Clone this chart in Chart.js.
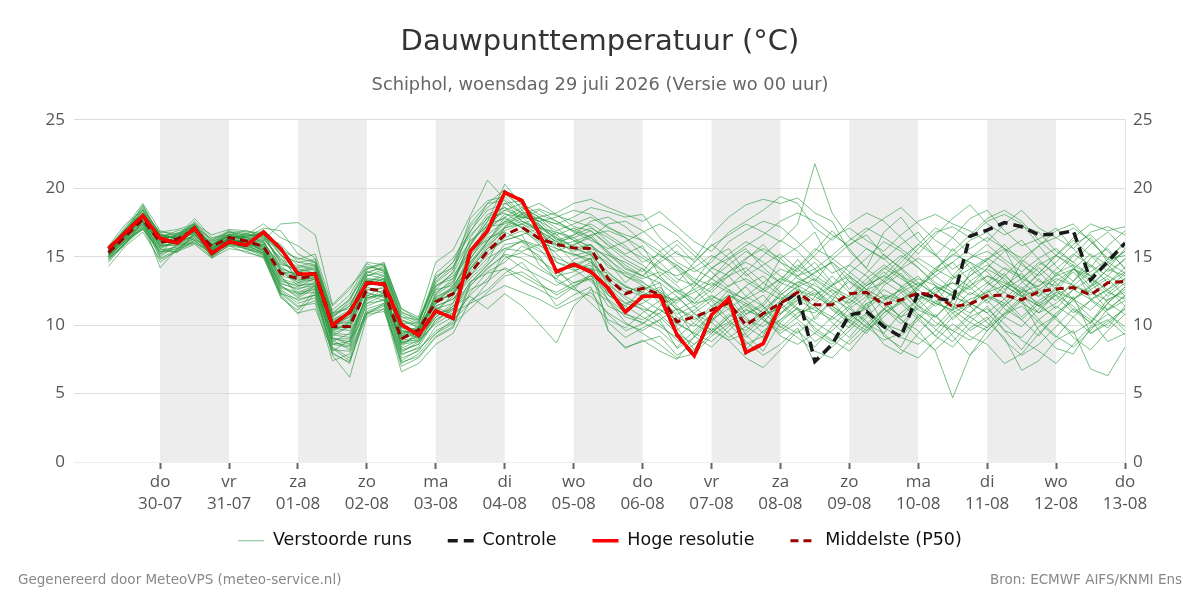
<!DOCTYPE html>
<html lang="nl">
<head>
<meta charset="utf-8">
<title>Dauwpunttemperatuur</title>
<script src="https://cdn.jsdelivr.net/npm/chart.js@4.4.1/dist/chart.umd.min.js"></script>
<style>
  html, body { margin: 0; padding: 0; background: #fff; }
  #wrap { width: 1200px; height: 600px; position: relative; }
</style>
</head>
<body>
<div id="wrap"><canvas id="chart"></canvas></div>
<script>
// time axis: hours after wo 29-07 00:00, 6-hourly steps
const HOURS = [6,12,18,24,30,36,42,48,54,60,66,72,78,84,90,96,102,108,114,120,
  126,132,138,144,150,156,162,168,174,180,186,192,198,204,210,216,222,228,234,240,
  246,252,258,264,270,276,282,288,294,300,306,312,318,324,330,336,342,348,354,360];

const DAY_NAMES = ['do','vr','za','zo','ma','di','wo','do','vr','za','zo','ma','di','wo','do'];
const DAY_DATES = ['30-07','31-07','01-08','02-08','03-08','04-08','05-08','06-08','07-08','08-08','09-08','10-08','11-08','12-08','13-08'];
const SHADED_DATES = ['30-07','01-08','03-08','05-08','07-08','09-08','11-08'];

const Y_TICKS = [0, 5, 10, 15, 20, 25];

// hoge resolutie (stops after ~10 days)
const hres = [15.6,16.8,18.0,16.35,16.0,17.1,15.25,16.1,15.85,16.8,
  15.6,13.75,13.75,10.0,10.95,13.1,13.0,10.05,9.25,11.05,
  10.5,15.4,16.9,19.7,19.1,16.7,13.9,14.45,13.9,12.7,
  10.95,12.1,12.15,9.3,7.75,10.75,11.95,8.0,8.65,11.5];

// controle run
const control = [15.6,16.8,18.0,16.35,16.0,17.1,15.25,16.1,15.85,16.8,
  15.6,13.75,13.75,10.0,10.95,13.1,13.0,10.05,9.25,11.05,
  10.5,15.4,16.9,19.7,19.1,16.7,13.9,14.45,13.9,12.7,
  10.95,12.1,12.15,9.3,7.75,10.75,11.95,8.0,8.65,11.5,
  12.4,7.35,8.6,10.75,11.0,9.9,9.15,12.4,12.0,11.75,
  16.5,16.95,17.5,17.2,16.6,16.65,16.9,13.3,14.65,16.0];

// middelste (P50)
const median = [15.3,16.5,17.75,16.05,16.3,17.0,15.75,16.4,16.15,15.75,
  13.8,13.4,13.65,9.9,9.9,12.65,12.5,9.0,9.65,11.7,
  12.3,13.8,15.4,16.6,17.15,16.35,15.9,15.65,15.6,13.4,
  12.3,12.7,12.25,10.25,10.6,11.1,11.65,10.0,10.85,11.6,
  12.4,11.5,11.5,12.3,12.4,11.5,11.85,12.35,12.2,11.35,
  11.55,12.15,12.2,11.85,12.45,12.65,12.75,12.2,13.1,13.2];

// verstoorde runs (ensemble members)
const members = [
  [15.6,16.9,18.3,16.2,15.9,17.3,15.1,16.2,15.9,17.0, 15.2,13.2,13.9,9.6,10.8,13.4,13.2,9.8,9.0,11.3,10.8, 15.8,17.6,20.3,18.8,17.2,14.6,14.0,14.4,12.2,11.4, 12.6,13.1,9.8,8.2,10.3,12.0,8.6,9.2,11.8,12.9, 10.4,11.8,13.5,12.2,10.1,9.6,11.7,12.8,11.2,13.9, 14.8,15.6,13.2,12.1,13.8,14.4,11.9,12.6,13.8],
  [15.0,16.2,17.2,15.8,16.0,16.6,15.9,16.5,16.3,15.4, 12.6,11.8,12.2,8.4,7.6,11.2,11.6,7.4,8.2,9.6,10.2, 12.4,13.9,14.6,15.8,15.1,13.2,12.6,13.8,10.2,9.1, 9.8,10.4,8.3,9.1,10.4,11.2,9.3,8.1,10.2,11.3, 9.6,8.8,10.4,11.6,9.2,8.4,10.8,9.7,8.8,10.2, 11.4,9.6,8.2,9.9,10.7,12.1,9.4,10.3,11.2],
  [15.4,17.1,18.6,16.6,16.4,17.6,16.2,16.8,16.6,16.2, 17.4,17.5,16.6,11.5,12.8,14.2,14.5,11.2,10.4,13.6,14.2, 16.9,18.4,18.9,18.2,17.8,17.4,17.9,18.6,18.3,17.9, 18.1,16.4,15.2,14.8,16.6,17.9,18.8,19.2,18.9,19.3, 18.2,17.6,15.4,14.2,16.8,17.9,16.2,15.1,16.4,17.8, 18.4,16.9,15.8,16.3,17.1,15.6,14.2,15.8,16.9],
  [15.2,16.5,17.9,15.1,16.8,16.2,15.8,16.9,16.1,15.6, 13.1,12.6,13.1,8.8,9.4,12.1,12.9,8.4,9.6,12.3,13.4, 15.2,17.4,17.8,17.1,15.9,16.8,16.2,15.3,14.6,13.1, 14.2,12.3,11.1,11.8,13.4,12.6,10.8,11.6,13.2,14.8, 13.3,12.4,10.9,9.8,11.2,12.8,13.6,12.1,10.4,11.6, 12.9,13.8,12.2,10.9,12.4,14.1,13.2,11.6,12.8],
  [14.9,16.0,17.6,14.2,15.6,16.1,15.4,16.2,15.5,15.3, 12.1,10.8,12.4,7.8,6.2,10.6,11.2,6.6,7.2,8.6,9.4, 11.8,12.6,13.8,14.6,13.2,11.4,12.2,12.8,9.6,8.4, 8.8,9.2,7.8,8.6,9.8,8.9,7.6,6.9,8.2,9.6, 8.4,9.9,11.2,10.3,8.6,7.9,9.4,10.8,9.2,7.8, 9.1,10.6,11.8,9.6,8.3,7.9,9.8,10.4,9.3],
  [15.5,16.7,18.1,16.4,16.9,17.2,15.6,16.4,16.7,16.4, 14.6,13.9,14.2,10.6,11.4,13.8,14.3,10.8,10.2,13.1,14.1, 17.8,19.1,19.4,18.2,18.5,18.0,17.6,17.2,16.1,15.2, 15.8,13.6,12.4,13.1,14.9,15.6,13.8,12.6,14.9,15.7, 16.8,14.4,12.6,13.8,15.2,14.1,12.8,13.9,15.6,14.2, 13.1,12.4,14.6,15.8,14.3,13.2,14.9,15.6,14.1],
  [15.1,16.3,17.4,15.6,15.3,16.8,14.9,15.9,15.8,15.9, 13.6,12.2,12.8,9.1,8.6,12.4,12.0,8.0,8.8,10.6,11.6, 14.1,15.6,16.2,16.6,14.4,13.4,14.8,15.2,12.8,11.6, 11.2,10.8,9.6,10.9,11.8,10.4,9.1,10.2,11.6,10.6, 12.1,13.6,12.4,11.2,12.9,13.8,12.2,11.6,13.4,14.6, 13.2,11.9,10.6,11.8,12.6,11.1,10.2,11.9,12.4],
  [15.7,17.2,18.9,16.9,16.5,17.8,16.4,16.6,16.9,16.6, 15.9,14.6,14.8,11.1,12.2,14.5,13.9,10.3,9.9,12.8,13.8, 16.2,17.2,17.4,17.9,17.6,16.4,15.8,16.6,15.3,14.2, 13.6,14.8,15.9,14.6,15.8,16.6,17.4,16.8,16.1,17.4, 21.8,18.2,16.4,15.6,14.8,15.9,16.8,15.2,13.6,12.8, 14.2,15.4,16.2,14.8,13.6,15.1,16.4,14.6,13.8],
  [15.3,16.6,17.7,16.0,16.2,16.9,15.6,16.3,16.0,15.6, 13.4,13.0,13.4,9.4,9.9,12.8,12.3,9.1,9.5,11.8,12.6, 13.9,15.1,16.4,16.9,16.1,15.6,15.2,14.8,13.2,12.4, 12.9,11.6,10.2,9.4,10.8,11.9,12.8,11.4,9.8,10.9, 11.3,10.6,9.8,11.6,12.1,10.4,9.6,8.1,4.7,7.8, 9.6,10.8,11.4,10.2,9.1,10.6,11.8,10.9,9.6],
  [15.6,16.8,18.2,16.1,16.1,17.0,15.3,16.0,16.2,16.9, 14.1,13.7,13.3,10.2,10.6,13.1,13.6,9.6,9.4,11.9,12.2, 14.8,16.8,18.9,19.1,17.4,15.9,14.6,14.1,13.8,12.9, 12.2,12.8,11.4,10.1,9.4,10.6,11.4,12.2,10.8,11.8, 12.6,11.2,10.4,11.9,13.2,12.4,11.1,10.6,11.9,12.8, 11.6,12.9,13.8,12.4,11.2,12.6,13.4,12.1,13.1],
  [15.8,17.4,18.4,16.8,17.0,17.4,16.6,17.0,16.9,16.4, 15.6,14.8,15.2,11.4,12.6,14.6,14.4,11.2,10.6,14.6,15.5, 18.0,20.6,19.2,18.1,17.6,17.9,18.4,18.1,17.2,16.4, 15.1,14.2,13.1,14.6,15.9,14.9,13.6,14.4,15.2,14.1, 13.2,14.8,15.9,16.6,15.1,14.2,15.6,16.8,17.2,16.4, 17.6,18.1,17.4,15.9,16.4,17.1,16.2,14.8,16.1],
  [14.6,16.1,17.0,15.3,15.8,16.4,15.2,16.1,15.6,15.2, 12.8,12.4,12.6,8.9,8.2,11.6,12.2,8.6,8.8,10.2,11.4, 12.1,11.2,12.3,11.4,10.1,8.7,11.4,12.6,11.8,10.6, 10.2,9.6,8.4,9.6,10.8,11.9,10.6,9.4,10.8,12.1, 11.4,10.2,9.1,10.6,11.8,12.6,11.4,10.2,9.6,10.8, 12.2,11.6,10.4,9.2,10.9,11.8,10.6,9.8,11.4],
  [15.2,16.4,17.3,16.3,16.6,16.8,16.1,16.7,16.5,15.1, 13.8,13.9,14.1,10.1,10.2,12.9,13.2,9.4,9.9,11.4,11.9, 13.4,14.6,17.2,17.8,18.4,17.6,16.9,17.4,16.6,15.8, 14.6,15.2,14.1,12.6,13.4,14.8,15.6,14.2,13.1,12.6, 11.8,12.9,14.4,13.6,12.1,11.6,12.8,13.9,14.6,13.2, 12.1,11.4,12.6,13.8,15.1,14.2,12.8,13.6,14.9],
  [15.0,16.1,17.5,15.5,15.7,16.3,15.5,16.2,15.8,15.3, 12.4,11.4,11.6,7.4,7.9,10.9,11.4,7.0,7.6,9.1,9.8, 12.9,14.2,15.1,14.2,13.6,12.9,13.6,14.2,11.8,10.2, 9.4,8.6,7.6,7.9,9.2,10.1,8.8,7.8,8.6,9.8, 7.2,8.4,9.6,10.8,9.4,8.2,7.6,8.9,10.1,9.2, 8.6,7.2,7.9,9.4,10.6,9.1,8.2,9.6,10.8],
  [15.4,16.7,17.9,16.5,16.4,17.1,15.9,16.5,16.4,17.1, 16.9,15.2,14.6,10.8,11.9,13.9,13.6,10.1,10.2,13.4,14.6, 16.6,17.8,18.2,17.4,17.9,18.2,18.9,19.2,18.6,18.1, 17.6,18.3,17.2,16.1,15.4,16.8,17.6,18.4,19.4,18.9, 17.1,16.2,17.4,18.2,17.6,16.4,15.2,16.6,17.8,18.8, 17.4,16.6,17.2,16.8,15.4,14.6,15.9,16.8,15.6],
  [15.3,16.6,18.0,15.7,16.1,16.9,15.0,16.1,16.0,16.2, 13.9,13.1,13.7,9.8,9.6,12.6,12.7,8.6,9.3,12.2,13.1, 15.6,16.2,17.1,17.6,16.9,16.1,15.4,15.9,14.2,13.8, 13.2,12.1,10.6,9.9,11.2,12.6,11.8,10.9,12.4,13.6, 14.6,13.1,11.6,12.6,13.9,12.8,11.4,10.6,11.8,13.2, 14.1,13.4,12.2,11.4,12.8,13.9,12.6,11.1,12.2],
  [14.3,15.8,16.8,14.8,15.4,15.9,14.9,15.6,15.4,14.9, 12.2,10.9,11.2,8.1,8.9,10.8,11.0,7.8,8.4,10.4,11.1, 13.2,13.8,14.1,13.2,12.6,11.9,12.8,13.6,12.4,11.2, 11.6,12.4,11.1,9.2,8.4,9.6,10.8,11.4,10.1,9.4, 10.6,11.8,10.2,9.4,10.9,11.6,10.4,9.2,10.6,11.4, 10.2,9.1,6.7,7.4,8.9,9.6,6.8,6.3,8.4],
  [15.5,16.9,18.5,16.7,16.2,17.5,15.4,16.4,16.3,16.0, 14.4,14.2,14.4,10.4,11.1,13.6,14.1,10.6,10.4,12.6,12.9, 16.4,18.1,18.6,17.6,17.1,16.8,16.4,15.6,15.1,14.6, 13.9,15.4,16.2,15.1,13.9,12.8,13.9,15.1,16.2,15.4, 14.1,12.9,13.8,14.9,16.1,15.4,14.2,13.1,12.4,13.6, 14.8,15.9,14.6,13.2,12.9,14.1,15.2,14.4,13.2],
  [15.1,16.4,17.8,15.9,16.3,16.7,15.7,16.3,15.9,15.8, 13.2,12.9,13.0,9.3,9.1,12.2,11.8,8.9,9.1,11.1,12.1, 14.4,16.1,17.9,18.6,17.9,16.6,15.6,15.2,13.6,12.8, 12.4,11.9,10.8,11.4,12.2,11.4,10.2,10.8,11.2,12.1, 13.1,11.9,11.2,12.1,11.6,10.6,11.9,12.8,12.2,11.4, 12.6,11.2,10.4,11.6,12.4,11.9,11.1,12.3,13.4],
  [15.2,16.3,17.6,14.9,15.5,16.6,15.3,16.0,15.7,15.5, 12.9,12.1,12.9,8.6,8.8,11.8,12.4,8.2,8.6,10.9,12.3, 13.6,14.9,15.6,15.4,15.9,14.6,14.2,14.9,9.6,8.3, 8.9,8.1,7.5,9.2,10.6,9.4,8.2,9.6,10.4,11.2, 9.8,8.9,8.1,9.6,10.9,11.8,10.6,9.2,8.4,9.8, 10.6,8.9,7.8,8.6,9.9,11.2,10.4,8.8,9.4],
  [15.4,16.6,17.4,16.1,16.0,16.9,16.0,16.6,16.2,15.7, 14.2,13.6,13.9,9.9,10.6,13.3,12.9,9.2,9.8,12.0,12.8, 14.9,16.4,16.8,16.2,15.8,15.4,15.9,16.4,15.2,14.1, 13.6,13.1,12.1,10.8,10.2,11.6,12.9,13.6,12.4,11.2, 10.9,12.2,13.2,12.4,11.2,10.1,11.4,12.6,13.1,12.2, 13.1,14.2,13.6,12.6,11.8,13.2,14.4,13.6,12.9],
  [15.6,17.0,18.1,16.5,16.7,17.2,16.3,16.9,16.8,16.8, 15.1,14.1,13.8,10.3,10.9,13.2,13.1,9.8,9.7,12.9,13.6, 15.4,16.9,18.1,17.9,16.8,15.9,16.1,16.6,16.9,16.4, 15.6,14.6,13.4,12.9,14.1,15.2,16.1,15.4,14.6,13.9, 15.1,16.4,17.1,16.2,15.4,16.6,17.6,18.1,17.4,16.9, 16.1,17.4,18.4,17.1,16.4,15.6,16.8,17.2,16.6],
  [15.0,16.2,17.1,15.4,15.4,16.2,15.1,15.8,15.6,15.0, 12.0,11.1,12.6,8.0,7.2,11.4,11.9,7.6,8.1,9.9,10.6, 12.2,13.4,14.9,15.3,14.8,13.9,13.1,13.4,11.4,10.8, 10.4,11.2,10.1,9.4,8.8,9.9,11.1,10.6,9.2,8.6, 9.4,10.6,11.9,11.1,9.8,9.2,10.4,11.6,11.1,10.2, 9.6,10.8,11.9,10.4,9.2,8.4,9.6,11.2,12.1],
  [15.3,16.8,18.4,16.3,15.9,17.0,15.5,16.2,16.2,16.3, 14.9,13.4,13.2,9.5,10.2,13.1,13.8,10.0,9.6,11.6,12.4, 15.1,16.6,17.6,18.4,18.9,18.1,17.2,16.9,15.8,14.8, 14.1,13.4,12.6,11.9,12.8,13.6,14.2,13.1,12.2,13.1, 13.8,14.6,13.2,12.1,13.4,14.2,13.1,12.2,13.6,14.9, 15.4,14.6,13.4,12.8,14.1,15.2,14.4,13.1,14.2],
  [15.1,16.5,17.8,16.0,16.4,16.7,15.8,16.6,16.1,15.4, 12.7,12.3,12.4,8.7,8.5,11.9,12.6,8.8,8.9,10.8,11.2, 12.6,13.2,14.2,13.6,12.9,12.4,13.1,13.6,12.9,12.1, 11.4,10.6,9.4,8.6,9.6,10.8,9.9,9.1,10.4,11.6, 12.4,11.1,10.2,11.4,12.6,11.9,10.8,9.9,11.2,12.4, 11.8,10.6,9.9,11.2,12.2,11.4,10.1,11.6,12.8],
  [15.5,16.7,18.0,16.2,16.6,17.1,15.8,16.4,16.5,16.6, 15.4,14.4,14.0,10.7,11.6,13.4,13.3,9.6,9.2,12.4,13.2, 15.9,17.9,18.6,18.0,17.4,16.2,16.6,17.1,16.4,15.6, 14.9,14.1,13.6,14.2,15.1,14.4,13.2,12.4,13.4,14.4, 13.6,12.8,12.1,13.1,14.2,13.4,12.6,14.1,15.2,14.6, 13.9,12.6,13.4,14.6,13.8,12.9,13.9,14.8,15.1],
  [14.8,16.0,17.3,15.0,15.9,16.0,15.3,15.9,15.7,15.1, 12.5,11.6,12.0,8.2,8.1,11.0,11.5,7.2,7.9,9.4,10.4, 11.6,12.2,12.9,12.4,11.9,11.2,11.8,12.4,10.8,9.6, 10.1,11.4,12.1,10.9,9.6,10.2,11.2,10.4,9.4,10.2, 8.8,9.6,10.8,9.9,8.9,9.4,10.6,11.8,10.9,9.6, 10.4,11.6,12.8,11.4,10.6,11.9,12.6,13.4,12.1],
  [15.7,17.0,18.7,16.6,16.3,17.3,15.9,16.5,16.4,16.1, 14.0,12.9,13.1,9.2,9.9,12.9,13.4,9.4,9.1,11.2,11.6, 14.6,15.9,17.2,18.2,17.6,16.9,17.4,17.9,17.1,16.6, 16.2,15.4,14.2,13.1,12.4,13.6,14.8,15.9,14.6,13.4, 12.9,12.1,11.6,12.9,14.1,15.1,14.2,12.9,12.1,11.6, 12.4,13.6,14.8,13.9,12.6,11.9,12.8,14.1,15.6],
  [15.2,16.5,17.8,16.2,16.1,16.8,15.7,16.3,16.0,15.8, 13.6,13.3,13.5,9.7,10.1,12.6,12.4,9.0,9.4,11.4,11.9, 13.6,15.4,16.2,16.6,17.1,16.4,15.2,14.6,13.4,12.6, 12.1,12.6,11.2,10.4,11.1,12.2,11.4,10.6,11.8,12.6, 12.1,11.4,10.6,11.2,12.2,11.9,12.6,11.6,11.1,11.9, 12.4,12.9,12.1,11.4,12.2,12.9,12.4,11.8,12.6],
  [15.4,16.4,17.6,15.7,16.2,16.9,15.6,16.4,16.1,16.0, 14.3,13.5,13.6,9.9,10.4,13.0,13.1,9.3,9.8,11.9,12.7, 14.2,15.8,16.9,17.4,16.6,15.8,15.6,15.9,14.8,13.9, 13.4,13.9,12.9,11.6,11.9,12.9,13.4,12.6,11.9,12.8, 13.4,12.6,11.9,12.9,13.6,12.9,11.9,12.4,13.1,12.6, 13.6,13.1,12.4,12.9,13.6,14.1,13.4,12.6,13.4],
  [15.5,16.8,18.8,16.4,16.5,17.4,15.7,16.3,16.6,17.4, 16.4,15.8,14.9,10.9,11.2,14.1,14.4,10.4,9.8,12.6,13.9, 17.2,18.6,19.6,18.6,17.9,17.1,16.2,15.8,14.9,13.6, 13.1,12.4,11.6,12.8,14.2,13.6,12.1,11.4,12.9,14.1, 15.4,16.9,15.6,14.1,13.2,14.6,15.9,17.1,16.4,15.2, 14.6,13.2,12.4,13.8,15.1,16.2,15.1,13.9,14.8],
  [14.9,16.0,17.5,15.2,15.6,16.4,15.4,16.1,15.8,15.6, 13.3,12.8,13.4,9.0,8.8,12.3,12.1,8.3,8.9,10.1,10.9, 11.6,13.1,15.4,16.2,15.6,14.1,12.8,11.6,10.4,9.8, 10.9,11.8,12.6,11.4,10.2,9.1,9.9,11.2,12.1,11.1, 10.2,9.4,8.6,9.8,11.1,12.4,13.1,12.2,11.4,10.6, 9.8,10.9,12.1,13.4,12.1,10.9,11.8,12.6,11.4],
  [15.3,16.4,17.9,16.6,16.3,17.1,15.9,16.5,16.4,16.5, 14.7,13.8,13.6,10.2,11.0,13.6,13.9,10.4,10.0,13.8,14.9, 16.8,18.9,19.9,18.4,17.2,16.6,17.1,16.4,17.4,17.6, 16.9,15.8,14.6,13.9,14.6,16.1,16.9,17.6,17.2,16.1, 14.9,13.8,14.4,15.6,14.9,13.6,12.9,14.2,15.1,16.2, 16.8,15.6,14.9,15.8,16.9,17.4,16.1,14.9,15.9],
  [15.0,16.3,17.0,15.6,16.1,16.5,15.6,16.3,15.9,15.2, 12.3,11.9,12.2,8.3,7.4,10.8,11.6,7.9,8.3,9.4,10.1, 11.2,12.4,13.6,13.9,13.1,12.2,12.9,13.4,12.2,11.4, 10.6,9.9,9.1,10.2,11.4,12.2,11.6,10.4,9.6,10.6, 11.6,12.6,11.4,10.1,9.4,10.9,11.9,10.6,9.6,8.9, 9.9,11.4,12.4,11.6,10.4,9.4,10.2,11.6,10.8],
  [15.6,17.1,18.2,16.8,16.7,17.4,16.2,16.8,16.7,16.3, 14.8,14.3,14.6,10.5,11.8,14.1,14.6,11.0,10.3,13.2,14.3, 16.1,17.3,18.4,18.9,18.1,17.6,16.8,16.2,15.6,16.1, 16.8,17.4,16.6,15.4,14.2,14.9,15.8,16.6,17.6,18.2, 17.6,16.6,15.8,16.9,17.8,18.6,17.4,16.2,15.4,16.6, 17.8,18.4,17.6,16.2,15.1,16.4,17.4,16.9,17.2],
  [15.2,16.6,17.6,15.8,15.9,16.6,15.4,16.2,16.1,15.9, 13.5,12.4,12.9,9.4,9.3,12.0,12.2,8.7,9.2,11.6,12.9, 14.6,16.2,17.6,17.2,16.4,15.2,14.1,13.2,11.9,10.9, 10.1,10.9,11.9,12.6,11.4,10.2,9.6,10.8,12.2,13.2, 12.6,11.4,10.4,9.6,10.6,11.8,12.9,13.6,12.6,11.6, 10.9,11.9,13.1,14.2,13.1,11.9,12.9,14.1,13.6],
  [15.4,16.9,18.0,16.4,16.4,17.0,15.5,16.3,16.1,16.6, 14.5,14.0,14.3,10.4,10.9,13.7,13.4,9.9,9.5,12.1,12.6, 15.3,17.1,17.9,17.1,16.2,15.9,16.6,17.6,17.9,17.2, 16.1,15.1,14.4,13.4,12.9,13.9,14.6,13.9,13.1,14.2, 15.6,14.9,13.9,12.9,13.6,14.9,15.9,15.1,14.1,14.9, 15.9,14.8,13.9,14.9,15.6,14.6,13.6,14.4,15.4],
  [14.7,15.9,17.1,14.6,15.5,16.0,15.0,15.8,15.3,15.0, 12.3,11.3,11.8,7.9,7.3,10.9,11.2,7.3,7.7,9.2,9.9, 13.1,14.4,15.9,16.1,14.9,13.6,13.9,14.6,13.1,11.9, 11.1,10.1,8.9,8.1,9.4,10.6,11.6,10.9,9.9,9.1, 8.1,7.6,8.9,10.1,11.2,10.4,9.1,8.2,9.4,10.6, 11.2,10.1,8.9,8.1,7.2,8.6,9.9,10.8,9.9],
  [15.3,16.5,17.8,16.1,16.2,16.8,15.8,16.5,16.2,15.7, 13.9,13.6,13.8,9.9,9.8,12.9,13.4,9.2,9.6,11.6,12.4, 14.1,15.6,17.1,17.4,16.9,15.6,15.1,15.4,14.4,13.6, 12.9,12.2,11.8,12.4,13.1,12.4,11.9,12.6,13.4,12.9, 12.2,12.9,13.6,12.6,11.9,12.6,13.4,12.9,12.1,12.9, 13.6,12.9,12.1,12.6,13.4,12.9,12.2,13.1,13.9],
  [15.5,16.6,17.9,16.3,16.5,17.2,15.9,16.6,16.4,16.1, 14.1,13.1,13.5,9.6,10.3,13.3,13.0,9.5,9.6,11.8,12.2, 14.4,16.1,17.5,18.1,17.3,16.3,15.7,15.1,13.9,12.8, 12.4,13.6,14.4,13.2,11.9,11.2,12.1,13.1,14.1,13.6, 12.6,11.6,12.1,13.4,14.4,13.6,12.2,11.4,12.4,13.6, 14.4,13.6,12.6,12.1,13.2,14.1,13.6,12.4,11.9],
  [15.1,16.2,17.6,15.9,15.8,16.6,15.5,16.1,15.9,15.5, 13.0,12.7,12.9,9.0,9.0,12.0,12.3,8.7,9.0,10.6,11.4, 13.1,14.4,15.6,16.1,15.4,14.9,14.4,14.9,12.4,11.6, 11.9,11.1,10.4,11.1,12.1,11.6,10.4,9.9,10.9,11.9, 11.1,10.4,11.4,12.4,11.6,10.6,11.2,12.2,11.6,10.9, 11.9,12.4,11.6,10.9,11.6,12.6,11.9,11.1,11.8],
  [15.6,17.0,18.4,16.5,16.0,17.3,15.6,16.4,16.5,16.8, 15.4,14.9,14.6,10.9,11.9,14.3,14.0,10.6,10.1,13.4,14.6, 17.4,18.9,19.1,17.6,16.9,16.1,16.4,16.9,15.9,15.1, 14.4,13.4,12.4,11.6,12.6,13.9,14.9,15.6,14.9,13.6, 14.1,15.1,16.2,17.1,16.4,15.6,14.6,13.6,14.6,15.6, 16.4,15.6,14.4,13.6,14.6,15.9,16.6,15.4,14.2],
  [14.8,16.0,17.2,15.4,15.6,16.2,15.2,15.9,15.6,15.4, 12.9,12.0,12.7,8.6,8.4,11.6,11.8,8.1,8.6,10.4,11.2, 12.9,14.1,15.2,14.9,14.1,13.4,12.6,12.1,10.9,10.1, 9.6,10.4,11.2,10.6,9.6,8.9,9.4,10.6,11.4,10.4, 9.4,8.6,9.9,10.9,10.2,9.1,8.6,9.6,10.9,11.6, 10.9,9.6,9.1,10.4,11.4,10.6,9.4,10.1,11.2],
  [15.4,16.7,18.2,16.6,16.6,17.3,16.1,16.6,16.6,16.6, 15.1,14.6,14.4,10.7,11.4,13.9,14.2,10.9,10.5,12.9,13.4, 15.9,17.6,18.4,17.9,17.8,17.4,16.9,16.4,15.4,14.4, 13.6,14.6,15.4,14.1,13.4,14.4,15.4,14.6,13.6,12.9, 13.9,14.6,13.6,12.6,13.1,14.1,14.9,14.1,13.4,14.1, 14.9,14.1,13.4,14.4,15.1,14.4,13.6,14.6,15.4]
];

const toPoints = (vals) => vals.map((v, i) => ({ x: HOURS[i], y: v }));

const memberSets = members.map((vals, k) => ({
  label: 'Verstoorde runs',
  data: toPoints(vals),
  borderColor: 'rgba(38, 150, 60, 0.6)',
  borderWidth: 1,
  pointRadius: 0,
  order: 3,
  hideInLegend: k > 0,
}));

const datasets = [
  ...memberSets,
  {
    label: 'Controle',
    data: toPoints(control),
    borderColor: '#1a1a1a',
    borderWidth: 3.5,
    borderDash: [10, 6],
    pointRadius: 0,
    order: 2,
  },
  {
    label: 'Hoge resolutie',
    data: toPoints(hres),
    borderColor: '#ff0000',
    borderWidth: 3.5,
    pointRadius: 0,
    order: 0,
  },
  {
    label: 'Middelste (P50)',
    data: toPoints(median),
    borderColor: '#990000',
    borderWidth: 3,
    borderDash: [8, 5],
    pointRadius: 0,
    order: 1,
  },
];

const dayBands = {
  id: 'dayBands',
  beforeDraw(chart) {
    const { ctx, chartArea, scales } = chart;
    ctx.save();
    ctx.fillStyle = '#ededed';
    SHADED_DATES.forEach((d) => {
      const idx = DAY_DATES.indexOf(d);
      const x0 = scales.x.getPixelForValue((idx + 1) * 24);
      const x1 = scales.x.getPixelForValue((idx + 2) * 24);
      ctx.fillRect(x0, chartArea.top, x1 - x0, chartArea.bottom - chartArea.top);
    });
    ctx.restore();
  },
};

const footer = {
  id: 'footer',
  afterDraw(chart) {
    const { ctx } = chart;
    ctx.save();
    ctx.font = '13.5px "DejaVu Sans"';
    ctx.fillStyle = '#888';
    ctx.textBaseline = 'middle';
    ctx.textAlign = 'left';
    ctx.fillText('Gegenereerd door MeteoVPS (meteo-service.nl)', 18, 580);
    ctx.textAlign = 'right';
    ctx.fillText('Bron: ECMWF AIFS/KNMI Ens', 1182, 580);
    ctx.restore();
  },
};

// legend entries drawn as short line samples with the dataset's own dash and width
const legendLabels = (chart) => {
  const items = Chart.defaults.plugins.legend.labels.generateLabels(chart);
  return items.map((item) => {
    const ds = chart.data.datasets[item.datasetIndex];
    item.strokeStyle = ds.borderColor;
    item.lineWidth = ds.borderWidth;
    item.lineDash = ds.borderDash || [];
    item.lineDashOffset = 0;
    return item;
  });
};

const tickFont = { family: '"Open Sans", sans-serif', size: 17 };

new Chart(document.getElementById('chart'), {
  type: 'line',
  data: { datasets },
  plugins: [dayBands, footer],
  options: {
    responsive: true,
    maintainAspectRatio: false,
    animation: false,
    layout: { padding: { left: 0, right: 0, top: 0, bottom: 40.5 } },
    elements: { line: { tension: 0, fill: false } },
    plugins: {
      tooltip: { enabled: false },
      title: {
        display: true,
        text: 'Dauwpunttemperatuur (°C)',
        color: '#333',
        font: { family: '"DejaVu Sans", sans-serif', size: 29, weight: 'normal' },
        padding: { top: 25.5, bottom: 14 },
      },
      subtitle: {
        display: true,
        text: 'Schiphol, woensdag 29 juli 2026 (Versie wo 00 uur)',
        color: '#666',
        font: { family: '"DejaVu Sans", sans-serif', size: 17.8 },
        padding: { top: 0, bottom: 24.3 },
      },
      legend: {
        position: 'bottom',
        labels: {
          color: '#111',
          font: { family: '"DejaVu Sans", sans-serif', size: 17.5 },
          usePointStyle: true,
          pointStyle: 'line',
          pointStyleWidth: 26,
          padding: 36,
          generateLabels: legendLabels,
          filter: (item, data) => !data.datasets[item.datasetIndex].hideInLegend,
          sort: (a, b) => a.datasetIndex - b.datasetIndex,
        },
      },
    },
    scales: {
      x: {
        type: 'linear',
        min: -6,
        max: 360,
        afterBuildTicks: (scale) => {
          scale.ticks = DAY_DATES.map((d, i) => ({ value: (i + 1) * 24 }));
        },
        afterFit: (scale) => {
          scale.height = 34;
          // the two-line day labels reach below the (short) axis box; don't clip them
          scale._computeLabelArea = () => undefined;
        },
        grid: {
          drawOnChartArea: false,
          drawTicks: true,
          tickLength: 7,
          tickColor: '#666',
          tickWidth: 2,
        },
        border: { display: true, color: '#eeeeee' },
        ticks: {
          autoSkip: false,
          maxRotation: 0,
          padding: 3,
          color: '#555',
          font: { ...tickFont, lineHeight: 1.25 },
          callback: (v) => {
            const i = Math.round(v / 24) - 1;
            return [DAY_NAMES[i], DAY_DATES[i]];
          },
        },
      },
      y: {
        position: 'left',
        min: 0,
        max: 25,
        afterBuildTicks: (scale) => { scale.ticks = Y_TICKS.map((v) => ({ value: v })); },
        afterFit: (scale) => { scale.width = 74; },
        grid: { color: '#dddddd', drawTicks: false },
        border: { display: false },
        ticks: { color: '#555', font: tickFont, padding: 9 },
      },
      y2: {
        position: 'right',
        min: 0,
        max: 25,
        afterBuildTicks: (scale) => { scale.ticks = Y_TICKS.map((v) => ({ value: v })); },
        afterFit: (scale) => { scale.width = 75; },
        grid: { drawOnChartArea: false, drawTicks: false },
        border: { display: true, color: '#e6e6e6' },
        ticks: { color: '#555', font: tickFont, padding: 8 },
      },
    },
  },
});
</script>
</body>
</html>
